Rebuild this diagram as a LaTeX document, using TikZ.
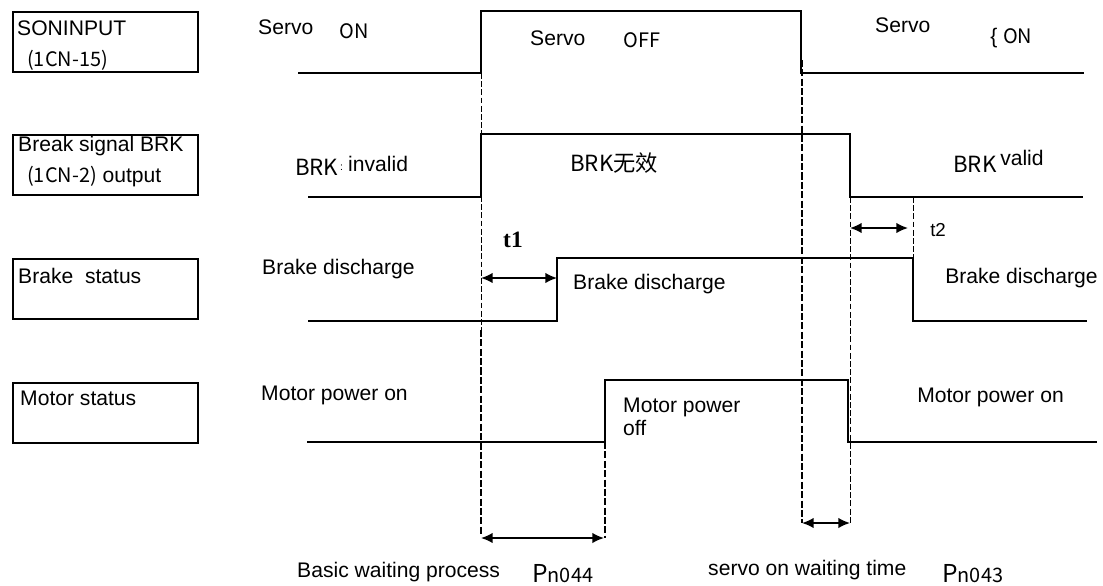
\documentclass[tikz,border=0pt]{standalone}
\usepackage{fontspec}
\setmainfont{Liberation Sans}
\newfontfamily\cjkfont{Noto Sans CJK SC}
\newfontfamily\serifbold{Liberation Serif}
\usetikzlibrary{arrows.meta}

\begin{document}
\begin{tikzpicture}[x=0.03cm, y=-0.03cm,
    txt/.style={font=\fontsize{18}{22}\selectfont, inner sep=0pt, anchor=base west},
    cjk/.style={font=\cjkfont\fontsize{17}{20}\selectfont, inner sep=0pt, anchor=base west},
    brk/.style={font=\cjkfont\fontsize{19}{22}\selectfont, inner sep=0pt, anchor=base west},
    namebox/.style={draw, line width=1.3pt, minimum width=5.55cm, minimum height=1.8cm, anchor=north west, inner sep=0pt},
    wave/.style={line width=1.6pt},
    guide/.style={line width=0.8pt, dash pattern=on 5pt off 2pt},
    thickguide/.style={line width=2.3pt, dash pattern=on 6pt off 2pt},
    dim/.style={{Latex[length=10pt,width=9pt]}-{Latex[length=10pt,width=9pt]}, line width=1.4pt}]
    \useasboundingbox (0,0) rectangle (1103,585);
    % left name boxes
    \node[namebox] (sonbox) at (12,11) {};
    \node[namebox] (brkbox) at (12,134) {};
    \node[namebox] (brakebox) at (12,258) {};
    \node[namebox] (motorbox) at (12,382) {};
    \node[txt] (sontxt) at (17,35) {SONINPUT};
    \node[cjk] (sonpin) at (27,66) {(1CN-15)};
    \node[txt] (brktxt) at (18,151) {Break signal BRK};
    \node[txt] (brkpin) at (27,182) {{\cjkfont\fontsize{17}{20}\selectfont(1CN-2)} output};
    \node[txt] (braketxt) at (18,283) {Brake\ \ status};
    \node[txt] (motortxt) at (20,405) {Motor status};
    % waveforms
    \draw[wave] (298,73) -- (481,73) -- (481,11) -- (801,11) -- (801,73) -- (1084,73);
    \draw[wave] (308,197) -- (481,197) -- (481,134) -- (850,134) -- (850,197) -- (1083,197);
    \draw[wave] (308,321) -- (557,321) -- (557,258) -- (913,258) -- (913,321) -- (1087,321);
    \draw[line width=1.1pt] (307,442) -- (605,442) -- (605,380) -- (848,380) -- (848,442) -- (1097,442);
    % time marks
    \foreach \n/\x/\y in {sa/481/73, sb/481/535, pa/605/442, pb/605/538, ra/802/60, rb/802/523,
                          va/850/197, vb/850/523, wa/913/197, wb/913/258} {
        \coordinate (\n) at (\x,\y);
    }
    \draw[guide] (sa) -- (481,330);
    \draw[thickguide] (481,330) -- (sb);
    \draw[thickguide] (pa) -- (pb);
    \draw[thickguide] (ra) -- (rb);
    \draw[guide] (va) -- (vb);
    \draw[guide] (wa) -- (wb);
    \coordinate (t1a) at (481,278);
    \coordinate (t1b) at (557,278);
    \coordinate (t2a) at (850,228);
    \coordinate (t2b) at (908,228);
    \coordinate (p44a) at (481,538);
    \coordinate (p44b) at (604,538);
    \draw[dim] (t1a) -- (t1b);
    \draw[dim] (t2a) -- (t2b);
    \draw[dim] (p44a) -- (p44b);
    \draw[dim] (rb) -- (vb);
    % labels
    \node[txt] (servo1) at (258,34) {Servo};
    \node[cjk] (on1) at (339,38) {ON};
    \node[txt] (servo2) at (530,45) {Servo};
    \node[cjk] (off) at (623,47) {OFF};
    \node[txt] (servo3) at (875,32) {Servo};
    \node[txt] (on2) at (990,43) {\{ {\cjkfont\fontsize{17}{20}\selectfont ON}};
    \node[brk] (brkinv) at (295,175) {BRK};
    \node[txt, font=\fontsize{9}{10}\selectfont] (colon) at (340,170) {:};
    \node[txt] (invalid) at (348,171) {invalid};
    \node[brk] (brkoff) at (570,171) {BRK无效};
    \node[brk] (brkval) at (953,172) {BRK};
    \node[txt] (valid) at (1000,165) {valid};
    \node[txt, font=\serifbold\bfseries\fontsize{20}{22}\selectfont] (t1) at (503,247) {t1};
    \node[txt, font=\fontsize{16}{18}\selectfont] (t2) at (930,236) {t2};
    \node[txt] (disch1) at (262,274) {Brake discharge};
    \node[txt] (disch2) at (573,289) {Brake discharge};
    \node[txt] (disch3) at (945,283) {Brake discharge};
    \node[txt] (mon1) at (261,400) {Motor power on};
    \node[txt] (moff) at (623,412) {Motor power};
    \node[txt] (moff2) at (623,435) {off};
    \node[txt] (mon2) at (917,402) {Motor power on};
    \node[txt] (basic) at (297,577) {Basic waiting process};
    \node[cjk] (pn44) at (532,582) {{\fontsize{21}{22}\selectfont P}n044};
    \node[txt] (svwait) at (708,575) {servo on waiting time};
    \node[cjk] (pn43) at (942,582) {{\fontsize{21}{22}\selectfont P}n043};
\end{tikzpicture}
\end{document}
